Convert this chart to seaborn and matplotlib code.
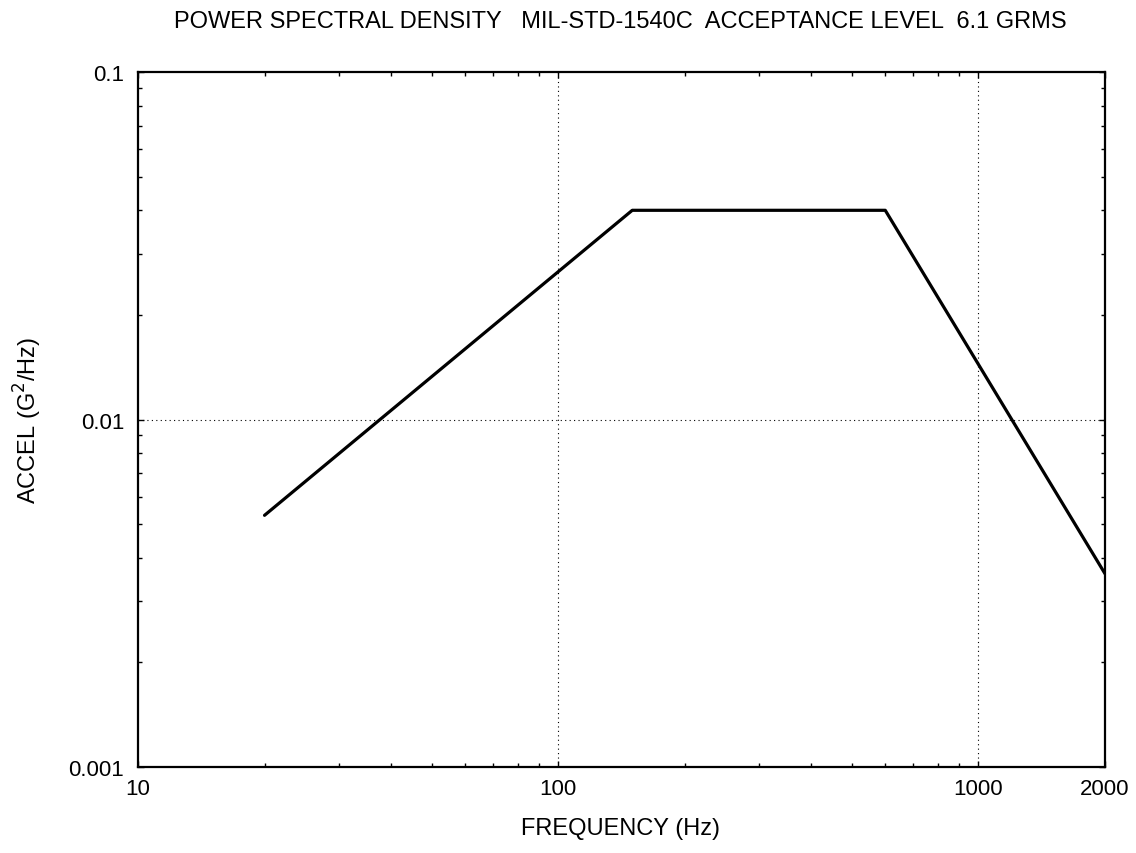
import matplotlib
matplotlib.use("Agg")
import matplotlib.pyplot as plt
import matplotlib.ticker as mticker
import seaborn as sns
import pandas as pd

freq_hz = [20, 150, 600, 2000]
psd_g2hz = [0.0053, 0.04, 0.04, 0.0036]
x_ticks = [10, 100, 1000, 2000]
x_tick_labels = ["10", "100", "1000", "2000"]
y_ticks = [0.001, 0.01, 0.1]
y_tick_labels = ["0.001", "0.01", "0.1"]

sns.set_theme(style="white")
plt.rcParams["font.family"] = ["Liberation Sans", "DejaVu Sans"]

df = pd.DataFrame({"freq": freq_hz, "psd": psd_g2hz})

fig = plt.figure(figsize=(11.36, 8.54), dpi=100)
ax = fig.add_axes([0.1215, 0.1007, 0.8512, 0.8138])
sns.lineplot(data=df, x="freq", y="psd", ax=ax, color="black", linewidth=2.3, sort=False)
ax.set_xscale("log")
ax.set_yscale("log")
ax.set_xlim(10, 2000)
ax.set_ylim(0.001, 0.1)

ax.set_xticks(x_ticks)
ax.set_xticklabels(x_tick_labels)
ax.set_yticks(y_ticks)
ax.set_yticklabels(y_tick_labels)
ax.xaxis.set_minor_locator(mticker.LogLocator(base=10, subs=range(2, 10)))
ax.yaxis.set_minor_locator(mticker.LogLocator(base=10, subs=range(2, 10)))
ax.xaxis.set_minor_formatter(mticker.NullFormatter())
ax.yaxis.set_minor_formatter(mticker.NullFormatter())

ax.tick_params(which="both", direction="in", top=True, right=True, bottom=True, left=True,
               color="black", labelsize=16, labelcolor="black")
ax.tick_params(which="major", length=4, width=1)
ax.tick_params(which="minor", length=3, width=1)
ax.tick_params(axis="x", pad=8)
ax.tick_params(axis="y", pad=10)

ax.grid(False)
for v in [100, 1000]:
    ax.axvline(v, color="black", linestyle=(0, (1, 3)), linewidth=0.8, zorder=0)
ax.axhline(0.01, color="black", linestyle=(0, (1, 3)), linewidth=0.8, zorder=0)

for s in ax.spines.values():
    s.set_color("black")
    s.set_linewidth(1.6)

ax.set_xlabel("")
ax.set_ylabel("")
fig.text(0.5458, 0.0293, "FREQUENCY (Hz)", ha="center", va="center", fontsize=17, color="black")
fig.text(0.0246, 0.508, "ACCEL (G$^2$/Hz)", ha="center", va="center", rotation=90,
         fontsize=17, color="black")
fig.text(0.5458, 0.9737, "POWER SPECTRAL DENSITY   MIL-STD-1540C  ACCEPTANCE LEVEL  6.1 GRMS",
         ha="center", va="center", fontsize=17, color="black")

fig.savefig("out.png", dpi=100, facecolor="white")
